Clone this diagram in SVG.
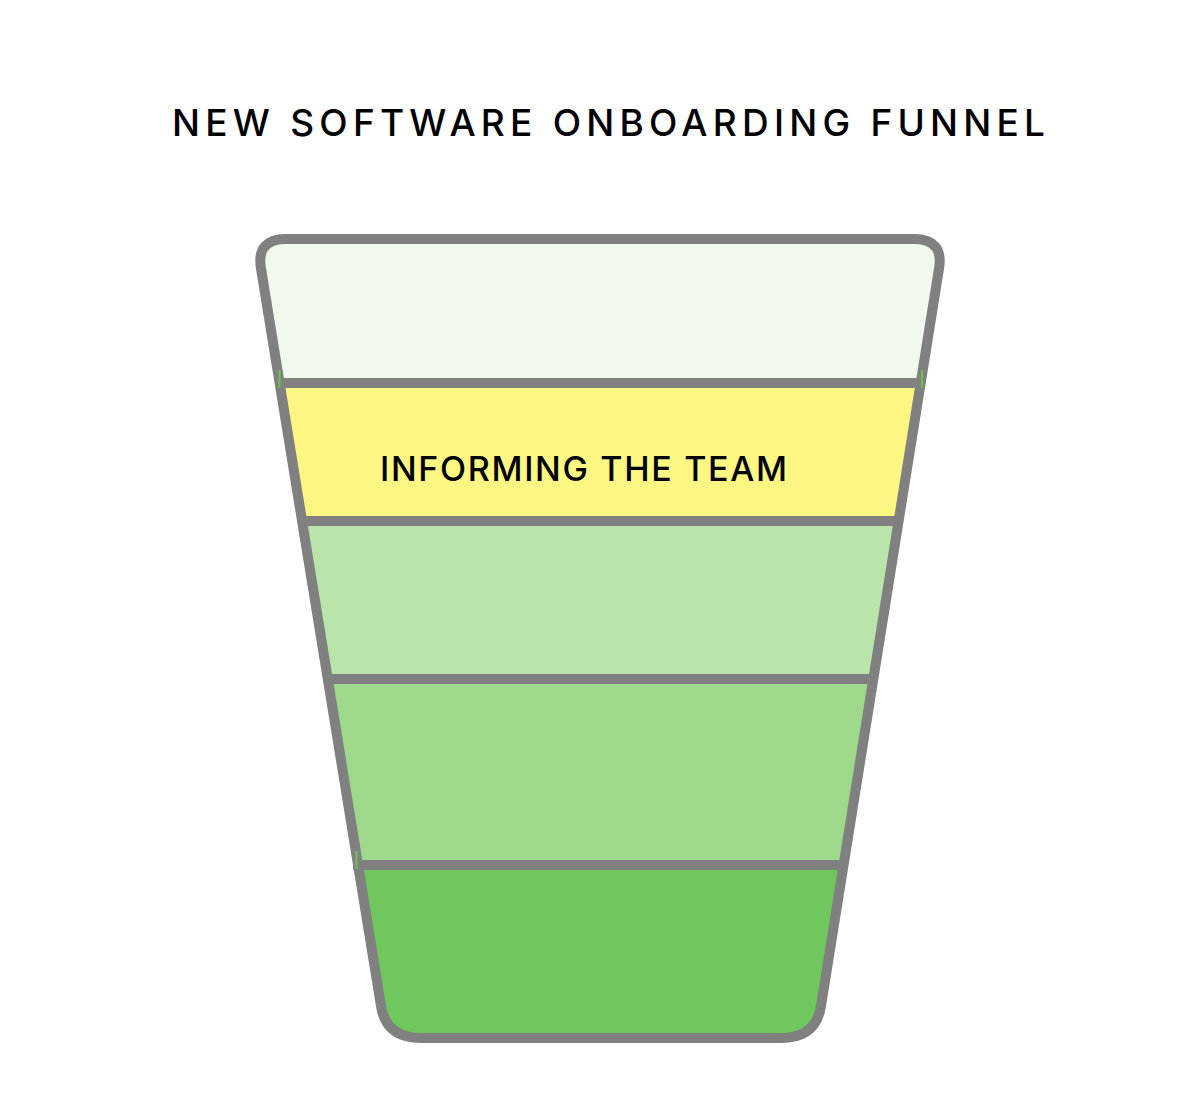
<svg xmlns="http://www.w3.org/2000/svg" width="1200" height="1098" viewBox="0 0 1200 1098">
<style>
.title{font-family:Inter,"Liberation Sans",Arial,sans-serif;font-size:37px;font-weight:500;fill:#000;}
.label{font-family:Inter,"Liberation Sans",Arial,sans-serif;font-size:34px;font-weight:500;fill:#000;}
.div{stroke:#808080;stroke-width:10;fill:none;}
.outline{stroke:#808080;stroke-width:10;fill:none;stroke-linejoin:round;}
.tick{stroke:#6cc24a;stroke-width:2;}
</style>
<defs>
<clipPath id="funnelClip">
<path d="M286 239 L914 239 Q944 239 939 268.6 L821 1006 Q816 1038 781 1038 L421 1038 Q386 1038 381 1006 L261 268.6 Q256 239 286 239 Z"/>
</clipPath>
</defs>
<rect width="1200" height="1098" fill="#fff"/>
<g id="title">
<text class="title" x="172" y="136" textLength="873" lengthAdjust="spacing">NEW SOFTWARE ONBOARDING FUNNEL</text>
</g>
<g id="funnel" clip-path="url(#funnelClip)">
<rect id="band1" x="200" y="230" width="800" height="153" fill="#f1f8ee"/>
<rect id="band2" x="200" y="383" width="800" height="138" fill="#fef683"/>
<rect id="band3" x="200" y="521" width="800" height="158" fill="#bae5aa"/>
<rect id="band4" x="200" y="679" width="800" height="186" fill="#9ed98b"/>
<rect id="band5" x="200" y="865" width="800" height="180" fill="#70c75d"/>
</g>
<g id="connectors">
<line class="div" x1="279.4" y1="383" x2="920.9" y2="383"/>
<line class="div" x1="301.9" y1="521" x2="898.8" y2="521"/>
<line class="div" x1="327.6" y1="679" x2="873.5" y2="679"/>
<line class="div" x1="353" y1="865" x2="843.7" y2="865"/>
</g>
<g id="outline">
<path class="outline" d="M286 239 L914 239 Q944 239 939 268.6 L821 1006 Q816 1038 781 1038 L421 1038 Q386 1038 381 1006 L261 268.6 Q256 239 286 239 Z"/>
</g>
<g id="ticks">
<line class="tick" x1="279.5" y1="370" x2="279.5" y2="388"/>
<line class="tick" x1="922" y1="370" x2="922" y2="388"/>
<line class="tick" x1="356.5" y1="851" x2="356.5" y2="869"/>
</g>
<g id="label-informing">
<text class="label" x="380" y="481" textLength="407" lengthAdjust="spacing">INFORMING THE TEAM</text>
</g>
</svg>
